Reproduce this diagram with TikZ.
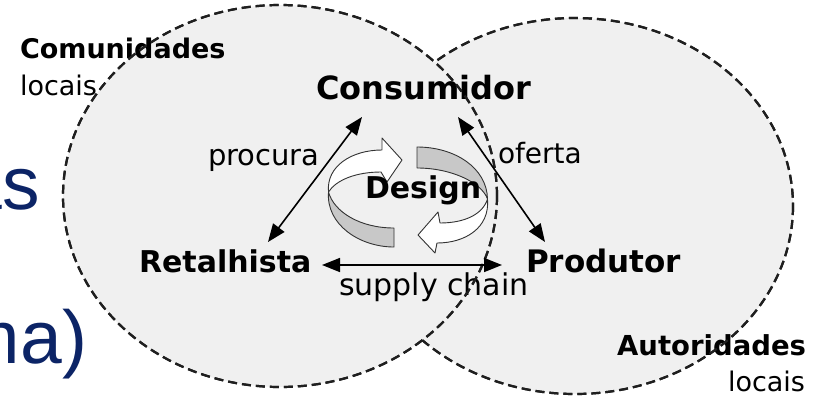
\documentclass[tikz,border=0pt]{standalone}
\usepackage{fontspec}
\setmainfont{DejaVu Sans}
\newfontfamily\slidefont{Liberation Sans}
\usetikzlibrary{arrows.meta}
\definecolor{navy}{RGB}{12,36,102}
\definecolor{ringfill}{RGB}{240,240,240}
\definecolor{ribgray}{RGB}{200,200,200}
\begin{document}
\begin{tikzpicture}[x=1pt,y=-1pt,
  boldlbl/.style={inner sep=0pt, outer sep=0pt, text=black, font=\bfseries\fontsize{#1}{#1}\selectfont},
  reglbl/.style={inner sep=0pt, outer sep=0pt, text=black, font=\fontsize{#1}{#1}\selectfont},
  slide/.style={inner sep=0pt, outer sep=0pt, text=navy, font=\slidefont\fontsize{75}{75}\selectfont},
  ringline/.style={draw=black!88, line width=2.2pt, dash pattern=on 9pt off 5pt},
  link/.style={line width=1.6pt, {Triangle[length=18pt,width=14pt]}-{Triangle[length=18pt,width=14pt]}},
  ribbon/.style={draw=black!80, line width=0.9pt, line join=round}]
\useasboundingbox (0,0) rectangle (816,397);
% rings
\fill[ringfill] (575,206) ellipse [x radius=218, y radius=188];
\draw[ringline] (575,206) ellipse [x radius=218, y radius=188];
\fill[ringfill] (280,196) ellipse [x radius=217, y radius=191];
\draw[ringline] (280,196) ellipse [x radius=217, y radius=191];
% slide text fragments
\node[slide, anchor=base east] (s1) at (40,209) {as};
\node[slide, anchor=base east] (s2) at (87,363) {ma)};
% labels
\node[boldlbl=27, anchor=base west] (com) at (20,58) {Comunidades};
\node[reglbl=27, anchor=base west] (locl) at (20,95) {locais};
\node[boldlbl=32, anchor=base west] (cons) at (316,99) {Consumidor};
\node[reglbl=29, anchor=base west] (proc) at (208,165) {procura};
\node[reglbl=28, anchor=base west] (ofer) at (498,163) {oferta};
\node[boldlbl=30, anchor=base west] (ret) at (139,272) {Retalhista};
\node[boldlbl=31, anchor=base west] (prod) at (526,272) {Produtor};
\node[reglbl=30, anchor=base west] (sup) at (339,295) {supply chain};
\node[boldlbl=27.5, anchor=base east] (aut) at (806,355) {Autoridades};
\node[reglbl=27, anchor=base east] (locr) at (805,391) {locais};
% ring outlines on top of text
\draw[ringline] (280,196) ellipse [x radius=217, y radius=191];
\begin{scope}[even odd rule]
\clip (0,0) rectangle (816,397) (280,196) ellipse [x radius=217, y radius=191];
\draw[ringline] (575,206) ellipse [x radius=218, y radius=188];
\end{scope}
% design cycle ribbons
\draw[ribbon, fill=ribgray] (328.5,192) .. controls (326,225) and (360,247) .. (394,247) -- (394,228) .. controls (360,228) and (334,212) .. (328.5,192) -- cycle;
\draw[ribbon, fill=white] (328.5,192) .. controls (326,166) and (352,150) .. (382,150) -- (382,138) -- (402,160) -- (387,182) -- (381,172) .. controls (356,172) and (336,180) .. (328.5,192) -- cycle;
\draw[ribbon, fill=ribgray] (417,147) .. controls (455,147) and (487,168) .. (487.5,199) .. controls (482,183) and (452,168) .. (417,168) -- cycle;
\draw[ribbon, fill=white] (487.5,199) .. controls (490,228) and (465,243) .. (437,243) -- (435,253) -- (418,235) -- (438,212) -- (440,223) .. controls (465,223) and (483,214) .. (487.5,199) -- cycle;
\node[boldlbl=30, anchor=base west] (des) at (365,198) {Design};
% connectors
\coordinate (pA) at (268,242);
\coordinate (pB) at (362,117);
\coordinate (oA) at (458,117);
\coordinate (oB) at (545,242);
\coordinate (sA) at (322,265);
\coordinate (sB) at (502,265);
\draw[link] (pA) -- (pB);
\draw[link] (oA) -- (oB);
\draw[link] (sA) -- (sB);
\end{tikzpicture}
\end{document}
